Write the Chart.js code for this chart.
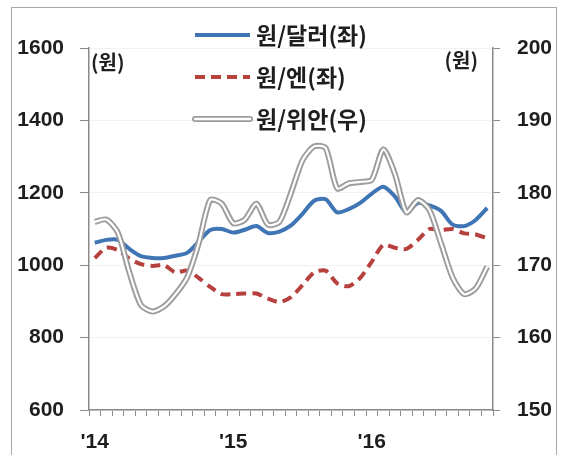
<!DOCTYPE html>
<html>
<head>
<meta charset="utf-8">
<script src="https://cdn.jsdelivr.net/npm/chart.js@4"></script>
<style>
  html, body { margin: 0; padding: 0; background: #ffffff; }
  #wrap { position: relative; width: 561px; height: 455px; overflow: hidden; }
  #frame { position: absolute; left: 11px; top: 7px; width: 546px; height: 460px;
           border: 1px solid #a8a8a8; box-sizing: border-box; pointer-events: none; }
  canvas { position: absolute; left: 0; top: 0; }
</style>
</head>
<body>
<div id="wrap">
  <canvas id="c" width="561" height="455"></canvas>
  <div id="frame"></div>
</div>
<script>
// Monthly series, Jan 2014 – Nov 2016
const months = [
  '2014.01','2014.02','2014.03','2014.04','2014.05','2014.06','2014.07','2014.08','2014.09','2014.10','2014.11','2014.12',
  '2015.01','2015.02','2015.03','2015.04','2015.05','2015.06','2015.07','2015.08','2015.09','2015.10','2015.11','2015.12',
  '2016.01','2016.02','2016.03','2016.04','2016.05','2016.06','2016.07','2016.08','2016.09','2016.10','2016.11'
];
const yearLabels = ["'14", "'15", "'16"];

// 원/달러 (left axis)
const krwUsd = [1062, 1070, 1070, 1045, 1025, 1020, 1020, 1026, 1034, 1065, 1097, 1100,
                1090, 1098, 1108, 1089, 1093, 1110, 1142, 1178, 1182, 1146, 1155, 1172,
                1198, 1217, 1190, 1145, 1172, 1165, 1150, 1112, 1108, 1125, 1158];
// 원/엔 (left axis)
const krwJpy = [1020, 1048, 1042, 1018, 1003, 998, 1000, 980, 985, 965, 940, 920,
                920, 922, 922, 908, 898, 912, 945, 980, 985, 950, 942, 965,
                1010, 1056, 1048, 1045, 1070, 1100, 1097, 1100, 1088, 1085, 1074];
// 원/위안 (right axis)
const krwCny = [176.0, 176.3, 174.5, 169.0, 164.5, 163.6, 164.3, 166.0, 168.3, 173.0, 179.0, 178.5,
                175.8, 176.3, 178.5, 175.6, 176.0, 180.0, 184.5, 186.4, 186.2, 180.6, 181.3, 181.5,
                181.8, 186.0, 182.6, 177.3, 179.0, 177.6, 173.0, 168.3, 166.0, 166.8, 169.8];

const leftTicks = { min: 600, max: 1600, step: 200 };
const rightTicks = { min: 150, max: 200, step: 10 };

const seriesNames = ['원/달러(좌)', '원/엔(좌)', '원/위안(우)'];
const unitLabel = '(원)';

const BLUE = '#3f74b5';
const RED = '#b5403d';
const GRAY = '#9c9c9c';
const AXIS = '#8a8a8a';
const TEXT = '#1e1e1e';
const TICK_FONT = { family: "'Liberation Sans', Arial, sans-serif", size: 21, weight: 'bold' };
const KR_FONT = "'Noto Sans CJK KR', 'Noto Sans', sans-serif";

// Legend and unit captions drawn inside the plot
const overlayPlugin = {
  id: 'overlay',
  afterDraw(chart) {
    const ctx = chart.ctx;
    ctx.save();
    const x0 = 195, x1 = 250, tx = 256;
    const rows = [35, 77, 119];
    // blue solid
    ctx.lineCap = 'butt';
    ctx.strokeStyle = BLUE; ctx.lineWidth = 4; ctx.setLineDash([]);
    ctx.beginPath(); ctx.moveTo(x0, rows[0]); ctx.lineTo(x1, rows[0]); ctx.stroke();
    // red dashed
    ctx.strokeStyle = RED; ctx.lineWidth = 4; ctx.setLineDash([10, 6]);
    ctx.beginPath(); ctx.moveTo(x0, rows[1]); ctx.lineTo(x1, rows[1]); ctx.stroke();
    // hollow gray
    ctx.setLineDash([]); ctx.lineCap = 'round';
    ctx.strokeStyle = GRAY; ctx.lineWidth = 6;
    ctx.beginPath(); ctx.moveTo(x0, rows[2]); ctx.lineTo(x1, rows[2]); ctx.stroke();
    ctx.strokeStyle = '#ffffff'; ctx.lineWidth = 2.5;
    ctx.beginPath(); ctx.moveTo(x0, rows[2]); ctx.lineTo(x1, rows[2]); ctx.stroke();

    ctx.fillStyle = TEXT;
    ctx.textBaseline = 'middle';
    ctx.textAlign = 'left';
    ctx.font = 'bold 23px ' + KR_FONT;
    seriesNames.forEach((n, i) => ctx.fillText(n, tx, rows[i]));

    ctx.font = 'bold 20px ' + KR_FONT;
    ctx.fillText(unitLabel, 91, 62);
    ctx.textAlign = 'right';
    ctx.fillText(unitLabel, 478, 60);
    ctx.restore();
  }
};

new Chart(document.getElementById('c'), {
  type: 'line',
  data: {
    labels: months,
    datasets: [
      { label: seriesNames[2] + ' inner', data: krwCny, yAxisID: 'y1', borderColor: '#ffffff',
        borderWidth: 2.2, pointRadius: 0, tension: 0.25, order: 0 },
      { label: seriesNames[2], data: krwCny, yAxisID: 'y1', borderColor: GRAY,
        borderWidth: 6, pointRadius: 0, tension: 0.25, order: 1 },
      { label: seriesNames[1], data: krwJpy, yAxisID: 'y', borderColor: RED,
        borderWidth: 4, borderDash: [10, 6], pointRadius: 0, tension: 0.25, order: 2 },
      { label: seriesNames[0], data: krwUsd, yAxisID: 'y', borderColor: BLUE,
        borderWidth: 4, pointRadius: 0, tension: 0.25, order: 3 }
    ]
  },
  options: {
    responsive: false,
    animation: false,
    events: [],
    layout: { padding: { top: 48, left: 0, right: 0, bottom: 0 } },
    plugins: { legend: { display: false }, tooltip: { enabled: false } },
    scales: {
      x: {
        type: 'category',
        offset: true,
        afterFit(s) { s.height = 45; },
        border: { color: AXIS, width: 1.5 },
        grid: { offset: true, drawOnChartArea: false, drawTicks: true, tickLength: 6, tickColor: AXIS, tickWidth: 1 },
        ticks: {
          autoSkip: false, maxRotation: 0, minRotation: 0, padding: 14,
          color: TEXT, font: TICK_FONT,
          callback(v, i) { return i % 12 === 0 ? yearLabels[i / 12] : ''; }
        }
      },
      y: {
        position: 'left',
        min: leftTicks.min, max: leftTicks.max,
        afterFit(s) { s.width = 89; },
        border: { color: AXIS, width: 1.5 },
        grid: { color: '#f1f1f1', tickColor: AXIS, tickLength: 9, drawTicks: true },
        ticks: { stepSize: leftTicks.step, padding: 16, color: TEXT, font: TICK_FONT,
                 callback(v) { return String(v); } }
      },
      y1: {
        position: 'right',
        min: rightTicks.min, max: rightTicks.max,
        afterFit(s) { s.width = 68; },
        border: { color: AXIS, width: 1.5 },
        grid: { drawOnChartArea: false, tickColor: AXIS, tickLength: 7, drawTicks: true },
        ticks: { stepSize: rightTicks.step, padding: 17, color: TEXT, font: TICK_FONT,
                 callback(v) { return String(v); } }
      }
    }
  },
  plugins: [overlayPlugin]
});
</script>
</body>
</html>
